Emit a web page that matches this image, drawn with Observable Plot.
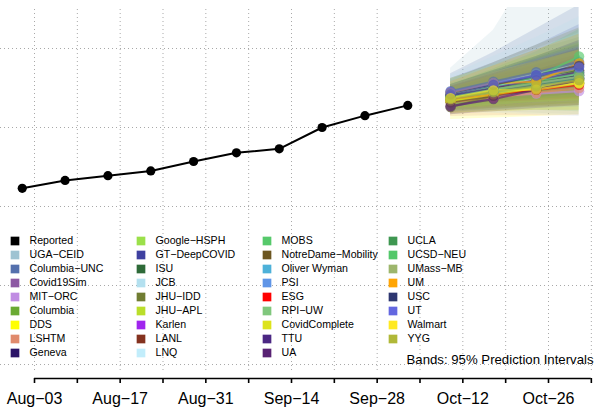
<!DOCTYPE html>
<html>
<head>
<meta charset="utf-8">
<script src="https://cdn.jsdelivr.net/npm/d3@7"></script>
<script src="https://cdn.jsdelivr.net/npm/@observablehq/plot@0.6"></script>
<style>
  html, body { margin: 0; padding: 0; background: white; }
  #wrap { position: relative; width: 595px; height: 410px; }
  #wrap svg { position: absolute; left: 0; top: 0; }
</style>
</head>
<body>
<div id="wrap"></div>
<script>
// ---------- data ----------
const reportedDates = ["2020-08-01","2020-08-08","2020-08-15","2020-08-22","2020-08-29",
                       "2020-09-05","2020-09-12","2020-09-19","2020-09-26","2020-10-03"];
const reportedValues = [223, 233, 239, 245, 257, 268, 273, 300, 315, 328];

const forecastDates = ["2020-10-10","2020-10-17","2020-10-24","2020-10-31"];

const models = ["UGA−CEID","Columbia−UNC","Covid19Sim","MIT−ORC","Columbia","DDS","LSHTM","Geneva",
  "Google−HSPH","GT−DeepCOVID","ISU","JCB","JHU−IDD","JHU−APL","Karlen","LANL","LNQ",
  "MOBS","NotreDame−Mobility","Oliver Wyman","PSI","ESG","RPI−UW","CovidComplete","TTU","UA",
  "UCLA","UCSD−NEU","UMass−MB","UM","USC","UT","Walmart","YYG"];

const modelColors = ["#9ec3d2","#5470ad","#8c58a3","#c08ce3","#6aaa34","#ffff00","#e08a6c","#2c1467",
  "#9be04a","#3e40a0","#2e6a38","#b3e0ef","#707d32","#bade2a","#a025ee","#84321f","#c2edfb",
  "#56c96b","#6c5621","#4db1d9","#5f95e7","#ff0000","#80c77d","#dde31b","#4b2783","#582273",
  "#3e9751","#53c86a","#9db66c","#ffa503","#2d3670","#6367e0","#ffe922","#b0b838"];

// median, lower and upper (95% PI) per model, for the four forecast weeks
const median = [
  [342,356,368,380],[346,358,370,383],[326,338,350,362],[336,340,343,346],[338,348,357,366],
  [334,343,352,360],[332,338,344,350],[340,350,358,366],[336,346,354,362],[344,354,364,380],
  [338,350,360,372],[342,352,361,370],[326,340,356,372],[334,342,350,358],[338,346,354,362],
  [340,350,359,368],[342,352,360,368],[338,352,364,390],[332,340,348,356],[340,348,356,364],
  [336,344,352,362],[336,342,348,354],[338,344,350,356],[334,342,350,357],[340,350,360,370],
  [327,336,348,360],[338,346,354,362],[338,348,358,368],[338,348,356,364],[344,356,358,381],
  [342,354,366,378],[345,356,366,376],[337,347,348,356],[336,345,352,360]];
const lower = [
  [322,320,318,316],[326,328,330,330],[318,325,332,338],[326,328,328,327],[318,320,322,322],
  [310,312,314,316],[314,315,315,315],[330,334,338,340],[322,326,328,330],[326,330,334,338],
  [326,332,336,340],[320,318,316,314],[316,322,328,332],[320,324,326,328],[330,335,340,344],
  [332,338,343,346],[326,328,330,332],[324,330,336,344],[322,324,326,328],[330,334,337,340],
  [320,322,324,326],[330,332,334,336],[322,322,322,320],[324,328,332,334],[328,333,338,342],
  [316,320,324,328],[328,332,336,338],[324,328,332,334],[326,330,332,334],[330,336,342,346],
  [332,338,344,348],[336,342,346,350],[318,320,322,322],[324,326,328,330]];
const upper = [
  [375,423,510,600],[368,395,425,455],[336,352,368,384],[348,356,362,366],[362,380,398,414],
  [362,378,392,406],[352,366,380,394],[352,366,380,392],[352,368,384,398],[362,382,404,430],
  [352,370,388,405],[366,390,414,440],[360,382,404,426],[350,362,376,390],[347,358,368,380],
  [350,364,378,392],[360,380,400,420],[354,374,396,424],[344,358,372,386],[350,362,375,388],
  [354,370,388,404],[342,352,362,372],[356,370,384,398],[344,358,370,382],[352,368,384,400],
  [338,354,372,390],[350,362,374,386],[354,372,390,408],[352,368,384,400],[358,378,398,418],
  [354,372,390,410],[354,370,386,402],[354,370,384,398],[350,366,382,398]];

const axisTicks = ["2020-08-03","2020-08-10","2020-08-17","2020-08-24","2020-08-31","2020-09-07",
  "2020-09-14","2020-09-21","2020-09-28","2020-10-05","2020-10-12","2020-10-19","2020-10-26","2020-11-02"];
const tickLabels = {"2020-08-03":"Aug−03","2020-08-17":"Aug−17","2020-08-31":"Aug−31",
  "2020-09-14":"Sep−14","2020-09-28":"Sep−28","2020-10-12":"Oct−12","2020-10-26":"Oct−26"};
const gridY = [0, 100, 200, 300, 400];
const yDomain = [-17.7, 451.9];
const gridBottom = -7.6;
const noteText = "Bands: 95% Prediction Intervals";

// ---------- derived tables ----------
const reported = reportedDates.map((d, i) => ({date: new Date(d), value: reportedValues[i]}));
const rows = models.flatMap((m, i) => forecastDates.map((d, j) => ({
  model: m, color: modelColors[i], date: new Date(d),
  med: median[i][j], lo: lower[i][j], hi: upper[i][j]
})));
const tickDates = axisTicks.map(d => new Date(d));
const font = "'Liberation Sans', Arial, Helvetica, sans-serif";

const main = Plot.plot({
  width: 595, height: 410,
  marginTop: 7, marginBottom: 32, marginLeft: 0, marginRight: 0,
  style: {fontFamily: font, background: "white", overflow: "visible"},
  x: {type: "utc", domain: [new Date("2020-08-03"), new Date("2020-10-26")], range: [34, 548]},
  y: {domain: yDomain, axis: null},
  marks: [
    Plot.ruleY(gridY, {stroke: "#a8a8a8", strokeDasharray: "1,3"}),
    Plot.ruleX(tickDates, {y1: gridBottom, y2: yDomain[1], stroke: "#a8a8a8", strokeDasharray: "1,3"}),
    Plot.areaY(rows, {x: "date", y1: "lo", y2: "hi", z: "model", fill: "color", fillOpacity: 0.17, clip: true}),
    Plot.lineY(rows, {x: "date", y: "med", z: "model", stroke: "color", strokeWidth: 2.2, strokeOpacity: 0.65}),
    Plot.dot(rows, {x: "date", y: "med", fill: "color", r: 5.2, fillOpacity: 0.65}),
    Plot.lineY(reported, {x: "date", y: "value", stroke: "black", strokeWidth: 2}),
    Plot.dot(reported, {x: "date", y: "value", fill: "black", r: 4.6}),
    Plot.ruleY([yDomain[0]], {x1: tickDates[0], x2: tickDates[tickDates.length - 1], stroke: "black", strokeWidth: 1.6}),
    Plot.axisX({ticks: tickDates, tickSize: 5, tickPadding: 9, strokeWidth: 1.6, stroke: "black",
      fontSize: 16, fill: "black", label: null,
      tickFormat: d => tickLabels[d.toISOString().slice(0, 10)] || ""}),
    Plot.text([noteText], {text: d => d, frameAnchor: "bottom-right", dx: -2, dy: -15,
      textAnchor: "end", fontSize: 13.2, fill: "black"})
  ]
});

// legend overlay
const legendNames = ["Reported", ...models];
const legendColors = ["#000000", ...modelColors];
const legendRows = legendNames.map((n, i) => ({name: n, color: legendColors[i], col: Math.floor(i / 9), row: i % 9}));

const legend = Plot.plot({
  width: 595, height: 410, margin: 0,
  style: {fontFamily: font, background: "transparent"},
  x: {domain: [0, 3], range: [14.5, 392.5], axis: null},
  y: {domain: [0, 8], range: [240.5, 352.5], axis: null},
  marks: [
    Plot.dot(legendRows, {x: "col", y: "row", symbol: "square", r: 4.9, fill: "color", stroke: "none"}),
    Plot.text(legendRows, {x: "col", y: "row", text: "name", dx: 14.5, textAnchor: "start", fontSize: 10.6, fill: "black"})
  ]
});

const wrap = document.getElementById("wrap");
wrap.appendChild(main);
wrap.appendChild(legend);
</script>
</body>
</html>
